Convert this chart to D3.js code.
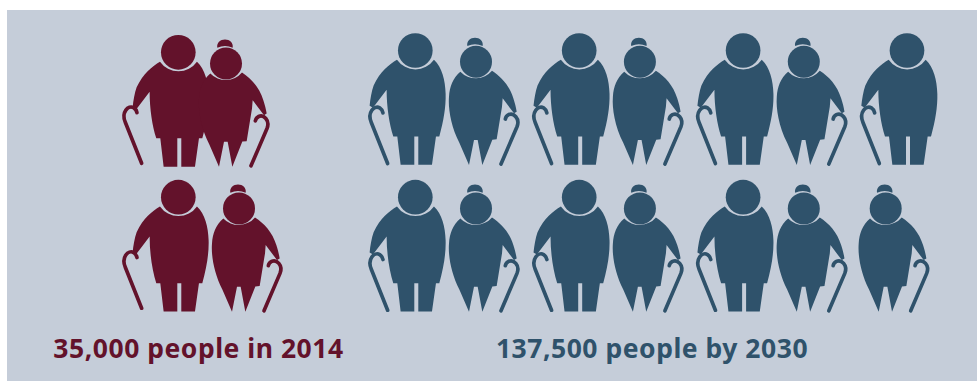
<!DOCTYPE html>
<html>
<head>
<meta charset="utf-8">
<script src="https://cdn.jsdelivr.net/npm/d3@7"></script>
<style>
html,body{margin:0;padding:0;background:#fff}
svg{display:block}
text{font-family:"Noto Sans",sans-serif;font-weight:700;letter-spacing:.52px}
</style>
</head>
<body>
<svg id="chart" width="977" height="381"></svg>
<script>
// People shown per group, one row list for each year
const groupLabels = ["35,000 people in 2014", "137,500 people by 2030"];
const groupColors = ["#63122b", "#2f526b"];
const rows2014 = [["couple"], ["couple"]];
const rows2030 = [
  ["couple", "couple", "couple", "man"],
  ["couple", "couple", "couple", "woman"]
];

const width = 977, height = 381;
const svg = d3.select("#chart");

svg.append("rect").attr("x", 7).attr("y", 10)
  .attr("width", width - 7).attr("height", height - 10)
  .attr("fill", "#c5cdd9");

// Glyphs are drawn at three units per pixel, origin at the centre of the head
const unit = 1 / 3;
const manBody = "M-55,28 C-78,42 -105,62 -125,105 C-131,122 -135,145 -137,166 L-127,172 L-86,118 C-86,170 -78,220 -66,258 L-54,258 L-44,343 L-3,343 L-3,258 L9,258 L9,343 L50,343 L62,258 L72,258 C85,210 92,170 91,130 C90,90 80,50 56,28 A68,68 0 0 1 -55,28 Z";
const manCane = "M-110,333 L-159,210 C-172,180 -150,157 -134,166 C-128,170 -125,175 -124,181";
const womanBody = "M48,27 C75,45 100,70 112,110 C117,125 120,138 122,150 L114,155 L80,110 L78,135 L62,233 L49,234 L19,310 L5,235 L-6,235 L-21,310 L-50,243 C-75,195 -84,140 -81,105 C-79,75 -70,50 -47,30 A64,64 0 0 0 48,27 Z";
const womanBun = "M-26,-47 C-29,-62 -17,-72 -3,-72 C11,-72 23,-62 20,-47 Q-3,-58 -26,-47 Z";
const womanCane = "M75,307 L123,195 C133,170 112,152 98,159 C92,162 89,167 88,172";

function drawMan(g, cx, cy, color, caneShift) {
  const a = g.append("g").attr("transform", `translate(${cx},${cy}) scale(${unit})`);
  a.append("circle").attr("r", 52).attr("fill", color);
  a.append("path").attr("d", manBody).attr("fill", color);
  a.append("path").attr("d", manCane).attr("fill", "none").attr("stroke", color)
    .attr("transform", `translate(${caneShift[0]},${caneShift[1]})`)
    .attr("stroke-width", 11).attr("stroke-linecap", "round");
}
function drawWoman(g, cx, cy, color) {
  const a = g.append("g").attr("transform", `translate(${cx},${cy}) scale(${unit})`);
  a.append("circle").attr("r", 48).attr("fill", color);
  a.append("path").attr("d", womanBun).attr("fill", color);
  a.append("path").attr("d", womanBody).attr("fill", color);
  a.append("path").attr("d", womanCane).attr("fill", "none").attr("stroke", color)
    .attr("stroke-width", 11).attr("stroke-linecap", "round");
}

// Columns and rows placed through scales
const rowY = d3.scaleLinear().domain([0, 1]).range([50.5, 197.2]);
const colX2030 = d3.scaleLinear().domain([0, 3]).range([415.3, 907]);
const womanDx = 60.7, womanDy = 11.2;

const g2014 = svg.append("g");
rows2014.forEach((row, r) => {
  // the upper couple stands closer together and slightly lower
  const y = r === 0 ? 52.3 : rowY(1);
  drawMan(g2014, 178.3, y, groupColors[0], [0, 0]);
  drawWoman(g2014, 178.3 + (r === 0 ? 47.7 : womanDx), y + womanDy, groupColors[0]);
});

const g2030 = svg.append("g");
rows2030.forEach((row, r) => {
  row.forEach((kind, c) => {
    const x = colX2030(c), y = rowY(r);
    if (kind === "couple") {
      drawMan(g2030, x, y, groupColors[1], [27, 6]);
      drawWoman(g2030, x + womanDx, y + womanDy, groupColors[1]);
    } else if (kind === "man") {
      drawMan(g2030, x, y, groupColors[1], [27, 6]);
    } else {
      drawWoman(g2030, x - 21.3, y + womanDy, groupColors[1]);
    }
  });
});

svg.selectAll("text.caption").data(groupLabels).join("text")
  .attr("class", "caption")
  .attr("x", (d, i) => [198.5, 652][i])
  .attr("y", 358)
  .attr("text-anchor", "middle")
  .attr("font-size", 26.5)
  .attr("fill", (d, i) => groupColors[i])
  .text(d => d);
</script>
</body>
</html>
